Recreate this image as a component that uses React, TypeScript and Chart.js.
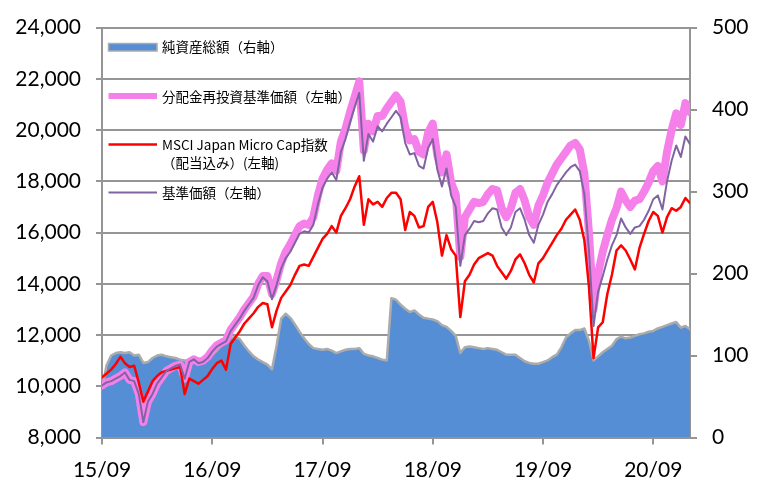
import React, { useEffect, useRef } from 'react';
import { Chart, registerables } from 'chart.js';

Chart.register(...registerables);

// x axis: one point per half month, starting 2015/09 (index * 0.5 = months after 2015/09)
const xTickMonths = [0, 12, 24, 36, 48, 60];
const xTickLabels = ['15/09', '16/09', '17/09', '18/09', '19/09', '20/09'];

const seriesLabels = [
  '純資産総額（右軸）',
  '分配金再投資基準価額（左軸）',
  'MSCI Japan Micro Cap指数',
  '基準価額（左軸）',
];
const msciSecondLine = '（配当込み）(左軸)';

// 純資産総額 (right axis, 億円)
const netAssets = [
  60, 88, 100, 103, 104, 103, 104, 100, 101, 91,
  92, 97, 100, 101, 99, 98, 97, 95, 94, 94,
  92, 90, 92, 97, 101, 106, 112, 117, 121, 123,
  120, 112, 105, 99, 95, 92, 89, 83, 112, 145,
  151, 146, 138, 129, 121, 114, 109, 108, 107, 108,
  106, 103, 105, 107, 108, 108, 109, 102, 100, 99,
  97, 95, 94, 170, 168, 162, 157, 153, 155, 150,
  146, 145, 144, 142, 137, 135, 130, 124, 103, 110,
  111, 110, 109, 108, 109, 108, 107, 104, 101, 101,
  101, 97, 93, 91, 90, 90, 92, 94, 98, 101,
  110, 122, 127, 131, 131, 133, 118, 94, 99, 104,
  108, 112, 120, 123, 121, 122, 124, 126, 127, 129,
  130, 133, 135, 137, 139, 141, 134, 136, 132,
];

// 分配金再投資基準価額 (left axis)
const reinvestedNav = [
  10030, 10150, 10200, 10300, 10400, 10540, 10250, 10200, 9700, 8600,
  9400, 9700, 10100, 10350, 10600, 10700, 10800, 10850, 10300, 10950,
  11050, 10950, 11000, 11150, 11400, 11600, 11700, 11800, 12200, 12450,
  12700, 13000, 13250, 13500, 14000, 14300, 14300, 13600, 14150, 14800,
  15250, 15550, 15900, 16250, 16350, 16300, 16600, 17450, 18100, 18450,
  18700, 18400, 19550, 20050, 20700, 21300, 21900, 19200, 20250, 19950,
  20550, 20550, 20850, 21100, 21350, 21100, 20100, 19600, 19650, 19150,
  19050, 19900, 20250, 19000, 18350, 19050, 17950, 17500, 15050, 16600,
  16900, 17200, 17150, 17200, 17500, 17700, 17650, 16950, 16600, 16950,
  17550, 17700, 17250, 16600, 16300, 17050, 17450, 17950, 18300, 18650,
  18900, 19150, 19400, 19500, 19250, 18300, 16000, 13000, 14400, 15250,
  15900, 16500, 16950, 17600, 17250, 17000, 17250, 17300, 17600, 17950,
  18400, 18600, 18000, 19150, 20000, 20650, 20200, 21050, 20700,
];

// MSCI Japan Micro Cap指数（配当込み） (left axis)
const msciIndex = [
  10350, 10500, 10650, 10870, 11150, 10900, 10750, 10800, 10150, 9400,
  9800, 10200, 10400, 10550, 10600, 10650, 10700, 10750, 9700, 10300,
  10200, 10100, 10250, 10400, 10680, 10900, 11000, 10650, 11650, 11900,
  12150, 12450, 12650, 12850, 13100, 13250, 13200, 12300, 12950, 13450,
  13700, 13950, 14350, 14700, 14750, 14700, 15050, 15400, 15750, 15950,
  16250, 16000, 16650, 16950, 17300, 17800, 18200, 16300, 17300, 17100,
  17200, 17000, 17350, 17550, 17550, 17300, 16100, 16800, 16650, 16200,
  16250, 17000, 17200, 16400, 15100, 15900, 15350, 15100, 12700, 14100,
  14350, 14750, 15000, 15100, 15200, 15100, 14700, 14450, 14200, 14500,
  14950, 15150, 14800, 14350, 14050, 14800, 15000, 15300, 15600, 15900,
  16150, 16500, 16700, 16900, 16500, 15700, 13900, 11100, 12300, 12500,
  13600, 14350, 15300, 15500, 15300, 14950, 14560, 15400, 15950, 16450,
  16800, 16650, 16000, 16600, 16950, 16850, 17000, 17350, 17150,
];

// 基準価額 (left axis)
const nav = [
  10030, 10150, 10200, 10300, 10400, 10540, 10250, 10200, 9700, 8600,
  9400, 9700, 10100, 10350, 10600, 10700, 10800, 10850, 10300, 10950,
  11050, 10900, 10950, 11100, 11350, 11550, 11650, 11750, 12150, 12400,
  12650, 12950, 13200, 13450, 13950, 14250, 14100, 13400, 13950, 14600,
  15000, 15250, 15600, 15950, 16050, 16000, 16300, 17100, 17750, 18100,
  18350, 18050, 19150, 19650, 20300, 20900, 21450, 18800, 19850, 19550,
  20150, 19950, 20250, 20500, 20750, 20500, 19500, 19050, 19100, 18600,
  18500, 19300, 19650, 18450, 17800, 18500, 17450, 17000, 14700, 15900,
  16150, 16450, 16400, 16450, 16750, 16950, 16900, 16200, 15900, 16200,
  16800, 16950, 16500, 15900, 15600, 16300, 16700, 17200, 17500, 17850,
  18100, 18350, 18550, 18650, 18400, 17500, 15300, 12350, 13700, 14300,
  14950, 15500, 15900, 16550, 16200, 15950, 16200, 16250, 16500, 16850,
  17300, 17450, 16900, 18000, 18800, 19400, 18950, 19750, 19450,
];

const BLUE = '#558ED5';
const AREA_EDGE = '#ABABAB';
const PINK = '#F580EA';
const RED = '#FF0000';
const PURPLE = '#8064A2';
const GRID = '#959595';
const TICK_FONT = { family: 'Lato', size: 21 };

const toPoints = (arr: number[]) => arr.map((v, i) => ({ x: i * 0.5, y: v }));

const legendPlugin = {
  id: 'insideLegend',
  afterDraw(chart: any) {
    const ctx = chart.ctx as CanvasRenderingContext2D;
    ctx.save();
    const x0 = 108.5;
    const x1 = 157;
    const tx = 162;
    ctx.font = '13.5px "Noto Sans CJK JP"';
    ctx.textBaseline = 'middle';
    ctx.textAlign = 'left';

    // 1: area box
    ctx.fillStyle = BLUE;
    ctx.fillRect(x0, 43.5, x1 - x0, 7.5);
    ctx.strokeStyle = AREA_EDGE;
    ctx.lineWidth = 1.5;
    ctx.strokeRect(x0, 43.5, x1 - x0, 7.5);
    ctx.fillStyle = '#000';
    ctx.fillText(seriesLabels[0], tx, 47);

    const line = (y: number, color: string, w: number) => {
      ctx.beginPath();
      ctx.strokeStyle = color;
      ctx.lineWidth = w;
      ctx.lineCap = 'butt';
      ctx.moveTo(x0, y);
      ctx.lineTo(x1, y);
      ctx.stroke();
    };
    line(96, PINK, 6);
    ctx.fillText(seriesLabels[1], tx, 97);
    line(144.5, RED, 2.5);
    ctx.fillText(seriesLabels[2], tx, 145);
    ctx.fillText(msciSecondLine, tx, 163);
    line(192.5, PURPLE, 2);
    ctx.fillText(seriesLabels[3], tx, 193);
    ctx.restore();
  },
};

export default function App() {
  const ref = useRef<HTMLCanvasElement>(null);
  useEffect(() => {
    if (!ref.current) return;
    const chart = new Chart(ref.current, {
      type: 'line',
      data: {
        datasets: [
          {
            label: seriesLabels[0],
            data: toPoints(netAssets),
            yAxisID: 'y1',
            borderColor: AREA_EDGE,
            borderWidth: 2.5,
            backgroundColor: BLUE,
            fill: 'origin',
            pointRadius: 0,
            order: 4,
          },
          {
            label: seriesLabels[1],
            data: toPoints(reinvestedNav),
            yAxisID: 'y',
            borderColor: PINK,
            borderWidth: 8,
            fill: false,
            pointRadius: 0,
            order: 3,
          },
          {
            label: seriesLabels[2],
            data: toPoints(msciIndex),
            yAxisID: 'y',
            borderColor: RED,
            borderWidth: 2.5,
            fill: false,
            pointRadius: 0,
            order: 2,
          },
          {
            label: seriesLabels[3],
            data: toPoints(nav),
            yAxisID: 'y',
            borderColor: PURPLE,
            borderWidth: 2,
            fill: false,
            pointRadius: 0,
            order: 1,
          },
        ],
      },
      options: {
        animation: false,
        responsive: false,
        maintainAspectRatio: false,
        layout: { padding: { top: 19.5, left: 0, right: 0, bottom: 0 } },
        plugins: { legend: { display: false }, tooltip: { enabled: false } },
        elements: { line: { tension: 0, borderJoinStyle: 'round', borderCapStyle: 'round' } },
        scales: {
          x: {
            type: 'linear',
            min: 0,
            max: 64,
            afterBuildTicks: (s: any) => {
              s.ticks = xTickMonths.map((v) => ({ value: v }));
            },
            afterFit: (s: any) => {
              s.height = 44.5;
            },
            ticks: {
              autoSkip: false,
              maxRotation: 0,
              padding: 13,
              color: '#000',
              font: TICK_FONT,
              callback: (v: any) => {
                const k = xTickMonths.indexOf(Number(v));
                return k >= 0 ? xTickLabels[k] : null;
              },
            },
            grid: { drawOnChartArea: false, drawTicks: true, tickLength: 7, color: GRID, lineWidth: 2 },
            border: { display: true, color: GRID, width: 2 },
          },
          y: {
            position: 'left',
            min: 8000,
            max: 24000,
            afterFit: (s: any) => {
              s.width = 102;
            },
            ticks: {
              stepSize: 2000,
              padding: 15,
              color: '#000',
              font: TICK_FONT,
              callback: (v: any) => Number(v).toLocaleString('en-US'),
            },
            grid: { color: GRID, lineWidth: 2, tickLength: 6 },
            border: { display: true, color: GRID, width: 2 },
          },
          y1: {
            position: 'right',
            min: 0,
            max: 500,
            afterFit: (s: any) => {
              s.width = 76;
            },
            ticks: {
              stepSize: 100,
              padding: 15,
              color: '#000',
              font: TICK_FONT,
            },
            grid: { drawOnChartArea: false, tickLength: 7, color: GRID, lineWidth: 2 },
            border: { display: true, color: GRID, width: 2 },
          },
        },
      } as any,
      plugins: [legendPlugin],
    });
    return () => chart.destroy();
  }, []);

  return (
    <div style={{ position: 'fixed', left: 0, top: 0, width: 766, height: 482, background: '#fff' }}>
      <canvas ref={ref} width={766} height={482} />
    </div>
  );
}
